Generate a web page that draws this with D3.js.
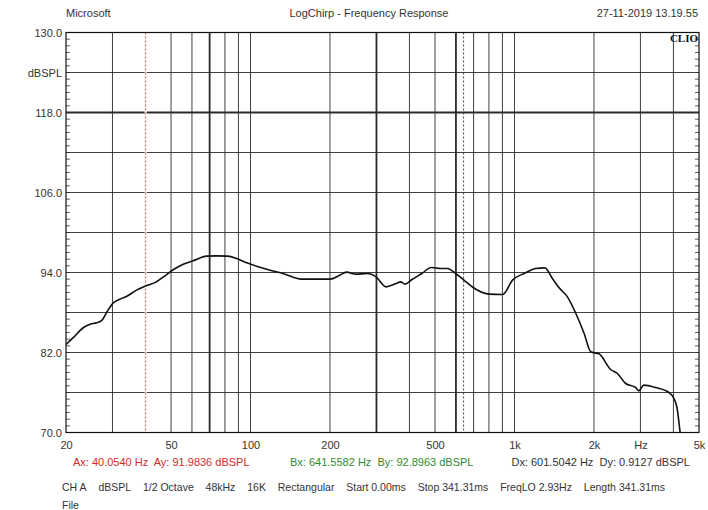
<!DOCTYPE html>
<html>
<head>
<meta charset="utf-8">
<script src="https://cdnjs.cloudflare.com/ajax/libs/d3/7.8.5/d3.min.js"></script>
<style>
body { margin: 0; background: #fff; }
svg { font-family: "Liberation Sans", Arial, sans-serif; display: block; }
</style>
</head>
<body>
<svg id="chart"></svg>
<script>
// frequency response
const freqs = [20, 21.4, 23.3, 24.7, 26.1, 27.4, 28.6, 30.2, 32, 33.7, 37, 40.05, 44, 46.8, 51.1, 55.6, 60.6, 68.2, 74.3, 81.7,
  88.6, 96.9, 105.4, 118.6, 132.6, 158, 200, 218, 231, 251, 277, 299, 326, 356, 371, 385, 409, 446, 484, 526,
  557, 598, 641.6, 697, 804, 901, 983, 1101, 1200, 1303, 1392, 1476, 1587, 1708, 1836, 1945, 2090, 2314, 2452, 2637,
  2878, 2955, 3093, 3424, 3846, 4017, 4132, 4231, 4300];
const spl = [83.2, 84.3, 85.75, 86.25, 86.45, 86.85, 88.1, 89.45, 90.0, 90.35, 91.35, 91.98, 92.6, 93.35, 94.45, 95.25, 95.75, 96.45, 96.5, 96.45,
  96.1, 95.45, 94.95, 94.35, 93.85, 93.0, 93.0, 93.6, 94.05, 93.75, 93.85, 93.35, 91.85, 92.35, 92.6, 92.25, 92.95, 93.85, 94.75, 94.6,
  94.6, 93.85, 92.9, 91.75, 90.75, 90.7, 92.85, 93.95, 94.6, 94.7, 93.1, 91.7, 90.35, 87.85, 84.85, 82.1, 81.8, 79.45, 78.85, 77.35,
  76.75, 76.25, 77.1, 76.75, 76.0, 75.1, 73.6, 70.35, 68.0];

const xTickValues = [20, 50, 100, 200, 500, 1000, 2000, 3000, 5000];
const xTickLabels = ['20', '50', '100', '200', '500', '1k', '2k', 'Hz', '5k'];
const xGridValues = [30, 40, 50, 60, 70, 80, 90, 100, 200, 300, 400, 500, 600, 700, 800, 900, 1000, 2000, 3000, 4000];
const yTickValues = [130, 124, 118, 106, 94, 82, 70];
const yTickLabels = ['130.0', 'dBSPL', '118.0', '106.0', '94.0', '82.0', '70.0'];
const yGridValues = [124, 118, 112, 106, 100, 94, 88, 82, 76];

const cursorA = [40.0540, 91.9836];
const cursorB = [641.5582, 92.8963];

const settings = ['CH A', 'dBSPL', '1/2 Octave', '48kHz', '16K', 'Rectangular',
  'Start 0.00ms', 'Stop 341.31ms', 'FreqLO 2.93Hz', 'Length 341.31ms'];

const heavyX = [70, 300, 600];
const heavyY = [118];

const width = 708;
const height = 510;
const plotLeft = 66;
const plotRight = 699;
const plotTop = 32.5;
const plotBottom = 432.5;
const font = '"Liberation Sans", Arial, sans-serif';

const svg = d3.select('#chart').
attr('width', width).
attr('height', height);

const x = d3.scaleLog().domain([20, 5000]).range([plotLeft, plotRight]);
const y = d3.scaleLinear().domain([70, 130]).range([plotBottom, plotTop]);

// grid
svg.append('g').
selectAll('line').
data(xGridValues).
enter().
append('line').
attr('x1', d => x(d)).
attr('x2', d => x(d)).
attr('y1', plotTop).
attr('y2', plotBottom).
attr('stroke', '#2a2a2a').
attr('stroke-width', d => heavyX.indexOf(d) >= 0 ? 1.8 : 0.9);

svg.append('g').
selectAll('line').
data(yGridValues).
enter().
append('line').
attr('x1', plotLeft).
attr('x2', plotRight).
attr('y1', d => y(d)).
attr('y2', d => y(d)).
attr('stroke', '#2a2a2a').
attr('stroke-width', d => heavyY.indexOf(d) >= 0 ? 1.8 : 0.9);

// minor dB ticks on both sides
const minor = d3.range(71, 130);
svg.append('g').
selectAll('line').
data(minor).
enter().
append('line').
attr('x1', plotLeft).
attr('x2', plotLeft + 4).
attr('y1', d => y(d)).
attr('y2', d => y(d)).
attr('stroke', '#333').
attr('stroke-width', 0.8);
svg.append('g').
selectAll('line').
data(minor).
enter().
append('line').
attr('x1', plotRight - 4).
attr('x2', plotRight).
attr('y1', d => y(d)).
attr('y2', d => y(d)).
attr('stroke', '#333').
attr('stroke-width', 0.8);

// cursors
svg.append('line').
attr('x1', x(cursorA[0])).
attr('x2', x(cursorA[0])).
attr('y1', plotTop).
attr('y2', plotBottom).
attr('stroke', '#fff').
attr('stroke-width', 2);
svg.append('line').
attr('x1', x(cursorA[0])).
attr('x2', x(cursorA[0])).
attr('y1', plotTop).
attr('y2', plotBottom).
attr('stroke', '#e05050').
attr('stroke-width', 1).
attr('stroke-dasharray', '2,2');
svg.append('line').
attr('x1', x(cursorB[0])).
attr('x2', x(cursorB[0])).
attr('y1', plotTop).
attr('y2', plotBottom).
attr('stroke', '#444').
attr('stroke-width', 1).
attr('stroke-dasharray', '2,2');

// frame
svg.append('rect').
attr('x', plotLeft).
attr('y', plotTop).
attr('width', plotRight - plotLeft).
attr('height', plotBottom - plotTop).
attr('fill', 'none').
attr('stroke', '#111').
attr('stroke-width', 1.2);

// curve
svg.append('clipPath').
attr('id', 'plot-clip').
append('rect').
attr('x', plotLeft).
attr('y', plotTop).
attr('width', plotRight - plotLeft).
attr('height', plotBottom - plotTop);

const points = freqs.map(function (f, i) {
  return [f, spl[i]];
});
const line = d3.line().
x(d => x(d[0])).
y(d => y(d[1])).
curve(d3.curveMonotoneX);

svg.append('path').
datum(points).
attr('clip-path', 'url(#plot-clip)').
attr('d', line).
attr('fill', 'none').
attr('stroke', '#111').
attr('stroke-width', 1.6).
attr('stroke-linejoin', 'round');

// axes labels
const xAxis = d3.axisBottom(x).
tickValues(xTickValues).
tickFormat(function (d, i) {
  return xTickLabels[i];
}).
tickSize(0).
tickPadding(9);
const gx = svg.append('g').
attr('transform', 'translate(0,' + plotBottom + ')').
call(xAxis);
gx.select('.domain').remove();
gx.selectAll('text').
style('font-size', '11px').
style('fill', '#333').
style('font-family', font);

const yAxis = d3.axisLeft(y).
tickValues(yTickValues).
tickFormat(function (d, i) {
  return yTickLabels[i];
}).
tickSize(0).
tickPadding(4);
const gy = svg.append('g').
attr('transform', 'translate(' + plotLeft + ',0)').
call(yAxis);
gy.select('.domain').remove();
gy.selectAll('text').
style('font-size', '11px').
style('fill', '#333').
style('font-family', font);

// header
svg.append('text').
attr('x', plotLeft).
attr('y', 17).
text('Microsoft').
style('font-size', '11px').
style('fill', '#333');
svg.append('text').
attr('x', 369).
attr('y', 17).
attr('text-anchor', 'middle').
text('LogChirp - Frequency Response').
style('font-size', '11px').
style('fill', '#333');
svg.append('text').
attr('x', 698).
attr('y', 17).
attr('text-anchor', 'end').
text('27-11-2019 13.19.55').
style('font-size', '11px').
style('fill', '#333');
svg.append('text').
attr('x', plotRight - 1).
attr('y', 41.5).
attr('text-anchor', 'end').
text('CLIO').
style('font-family', '"Liberation Serif", "DejaVu Serif", serif').
style('font-weight', 'bold').
style('font-size', '11px').
style('fill', '#111');

// cursor readouts
const dx = cursorB[0] - cursorA[0];
const dy = cursorB[1] - cursorA[1];
const readouts = [
['Ax: ' + cursorA[0].toFixed(4) + ' Hz  Ay: ' + cursorA[1].toFixed(4) + ' dBSPL', 73, 'start', '#d42a2a'],
['Bx: ' + cursorB[0].toFixed(4) + ' Hz  By: ' + cursorB[1].toFixed(4) + ' dBSPL', 290, 'start', '#2f8a2f'],
['Dx: ' + dx.toFixed(4) + ' Hz  Dy: ' + dy.toFixed(4) + ' dBSPL', 690, 'end', '#333']];

svg.append('g').
selectAll('text').
data(readouts).
enter().
append('text').
attr('x', d => d[1]).
attr('y', 466).
attr('text-anchor', d => d[2]).
attr('xml:space', 'preserve').
text(d => d[0]).
style('font-size', '11px').
style('fill', d => d[3]);

// settings line, spread between x=62 and x=665
const settingsText = svg.append('g').
selectAll('text').
data(settings).
enter().
append('text').
attr('y', 491).
text(d => d).
style('font-size', '10.5px').
style('fill', '#333');

const widths = [];
settingsText.each(function () {
  widths.push(this.getComputedTextLength());
});
const gap = (665 - 62 - d3.sum(widths)) / (settings.length - 1);
let cursorX = 62;
settingsText.attr('x', function (d, i) {
  const pos = cursorX;
  cursorX += widths[i] + gap;
  return pos;
});

svg.append('text').
attr('x', 62).
attr('y', 509).
text('File').
style('font-size', '10.5px').
style('fill', '#333');
</script>
</body>
</html>
